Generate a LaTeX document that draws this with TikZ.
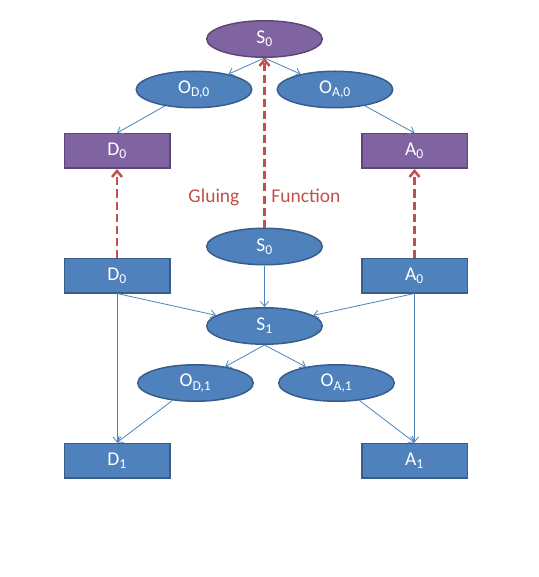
\documentclass[tikz,border=0pt]{standalone}
\usepackage{fontspec}
\setmainfont{Carlito}
\usetikzlibrary{arrows.meta, positioning, shapes.geometric}

\definecolor{nodeblue}{HTML}{4F81BD}
\definecolor{lineblue}{HTML}{385D8A}
\definecolor{nodepurple}{HTML}{8064A2}
\definecolor{linepurple}{HTML}{5C4776}
\definecolor{gluered}{HTML}{C0504D}

\begin{document}
\begin{tikzpicture}[
  x=1pt, y=1pt, on grid,
  stnode/.style={ellipse, draw=lineblue, line width=1.5pt, fill=nodeblue, minimum width=115.5pt, minimum height=36.5pt, inner sep=0pt, text=white},
  topst/.style={stnode, draw=linepurple, fill=nodepurple},
  stbox/.style={rectangle, draw=lineblue, line width=1.5pt, fill=nodeblue, minimum width=105.5pt, minimum height=34.5pt, inner sep=0pt, text=white},
  topbox/.style={stbox, draw=linepurple, fill=nodepurple},
  every node/.style={font=\fontsize{19.5}{23}\selectfont},
  arrow/.style={-{Straight Barb[length=5pt, width=8pt]}, draw=nodeblue, line width=0.8pt},
  glue/.style={-{Straight Barb[length=6pt, width=10pt]}, draw=gluered, line width=2.5pt, dash pattern=on 8pt off 4pt}
]

\useasboundingbox (0,0) rectangle (538,-577);

% ------------------------------------------------------------
% Upper level
% ------------------------------------------------------------

\node[topst] (s0top) at (264.5,-39) {S\textsubscript{0}};
\node[stnode, below left=50.5pt and 70.5pt of s0top] (od0) {O\textsubscript{D,0}};
\node[stnode, below right=50.5pt and 70.5pt of s0top] (oa0) {O\textsubscript{A,0}};
\node[topbox, below left=112pt and 147.5pt of s0top] (d0top) {D\textsubscript{0}};
\node[topbox, below right=112pt and 150pt of s0top] (a0top) {A\textsubscript{0}};

\draw[arrow] (s0top.south) -- (od0);
\draw[arrow] (s0top.south) -- (oa0);
\draw[arrow] (od0) -- (d0top.north);
\draw[arrow] (oa0) -- (a0top.north);

% ------------------------------------------------------------
% Lower level
% ------------------------------------------------------------

\node[stnode, below=207.5pt of s0top] (s0) {S\textsubscript{0}};
\node[stbox, below=124.5pt of d0top] (d0) {D\textsubscript{0}};
\node[stbox, below=124.5pt of a0top] (a0) {A\textsubscript{0}};

\node[stnode, below=79.5pt of s0] (s1) {S\textsubscript{1}};
\node[stnode, below left=57pt and 69pt of s1] (od1) {O\textsubscript{D,1}};
\node[stnode, below right=57pt and 72pt of s1] (oa1) {O\textsubscript{A,1}};
\node[stbox, below=185pt of d0] (d1) {D\textsubscript{1}};
\node[stbox, below=185pt of a0] (a1) {A\textsubscript{1}};

\draw[arrow] (s0) -- (s1);
\draw[arrow] (d0.south) -- (s1);
\draw[arrow] (a0.south) -- (s1);
\draw[arrow] (d0) -- (d1);
\draw[arrow] (a0) -- (a1);
\draw[arrow] (s1.south) -- (od1);
\draw[arrow] (s1.south) -- (oa1);
\draw[arrow] (od1) -- (d1.north);
\draw[arrow] (oa1) -- (a1.north);

% ------------------------------------------------------------
% Gluing function
% ------------------------------------------------------------

\draw[glue] (d0) -- (d0top);
\draw[glue] (a0) -- (a0top);
\draw[glue] (s0) -- node[pos=0.18, text=gluered] {Gluing\hspace{32pt}Function} (s0top);

\end{tikzpicture}
\end{document}
